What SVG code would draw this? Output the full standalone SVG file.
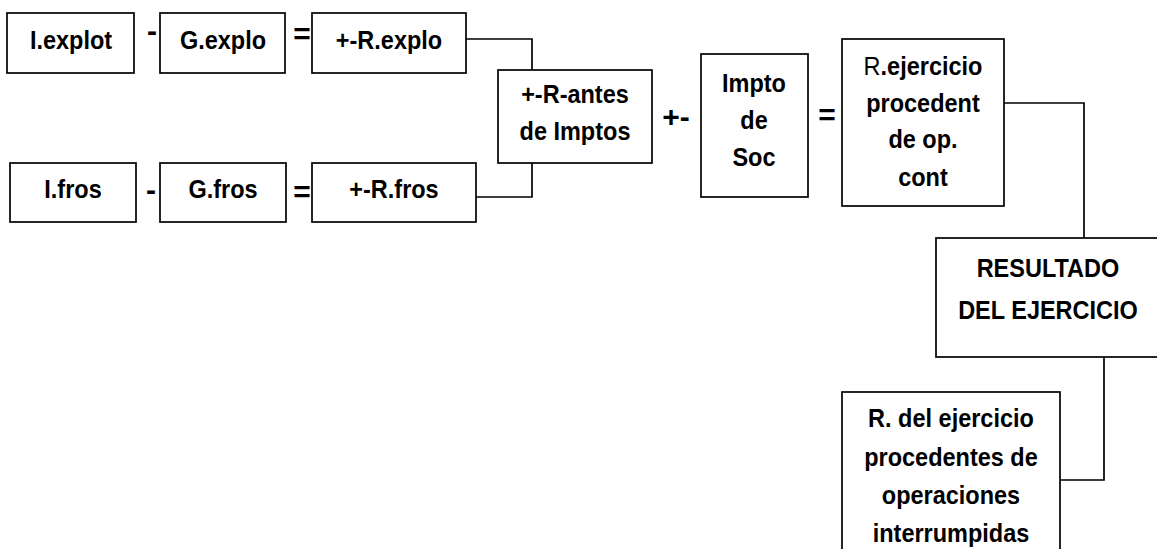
<svg xmlns="http://www.w3.org/2000/svg" width="1157" height="549" viewBox="0 0 1157 549">
  <style>
    .box { fill: #ffffff; stroke: #000000; stroke-width: 1.7; }
    .wire { fill: none; stroke: #000000; stroke-width: 1.7; }
    .lbl { font-family: "Liberation Sans", Arial, sans-serif; font-weight: bold; font-size: 23.5px; fill: #000000; text-anchor: middle; }
    .op { font-family: "Liberation Sans", Arial, sans-serif; font-weight: bold; font-size: 30px; fill: #000000; text-anchor: middle; }
    .thin { font-weight: normal; }
  </style>
  <rect width="1157" height="549" fill="#ffffff"/>

  <!-- connectors -->
  <g id="connectors">
    <polyline class="wire" points="466,39 532,39 532,70"/>
    <polyline class="wire" points="532,163 532,197 476,197"/>
    <polyline class="wire" points="1004,103 1084,103 1084,238"/>
    <polyline class="wire" points="1104,357 1104,480 1060,480"/>
  </g>

  <!-- labels are stretched 10% upwards from their baseline (matrix 1 0 0 1.1 0 -0.1*y) -->

  <!-- operating result row -->
  <g id="ingresos-explotacion">
    <rect class="box" x="7" y="13" width="127" height="60"/>
    <text class="lbl" x="71" y="49" transform="matrix(1 0 0 1.1 0 -4.9)">I.explot</text>
  </g>
  <text class="op" x="152" y="41">-</text>
  <g id="gastos-explotacion">
    <rect class="box" x="160" y="13" width="125" height="60"/>
    <text class="lbl" x="223" y="49" transform="matrix(1 0 0 1.1 0 -4.9)">G.explo</text>
  </g>
  <text class="op" x="302" y="44">=</text>
  <g id="resultado-explotacion">
    <rect class="box" x="312" y="13" width="154" height="60"/>
    <text class="lbl" x="389" y="49" transform="matrix(1 0 0 1.1 0 -4.9)">+-R.explo</text>
  </g>

  <!-- financial result row -->
  <g id="ingresos-financieros">
    <rect class="box" x="10" y="163" width="126" height="59"/>
    <text class="lbl" x="73" y="198" transform="matrix(1 0 0 1.1 0 -19.8)">I.fros</text>
  </g>
  <text class="op" x="151" y="200">-</text>
  <g id="gastos-financieros">
    <rect class="box" x="160" y="163" width="126" height="59"/>
    <text class="lbl" x="223" y="198" transform="matrix(1 0 0 1.1 0 -19.8)">G.fros</text>
  </g>
  <text class="op" x="302" y="202">=</text>
  <g id="resultado-financiero">
    <rect class="box" x="312" y="163" width="164" height="59"/>
    <text class="lbl" x="394" y="198" transform="matrix(1 0 0 1.1 0 -19.8)">+-R.fros</text>
  </g>

  <!-- result before taxes -->
  <g id="resultado-antes-impuestos">
    <rect class="box" x="498" y="70" width="154" height="93"/>
    <text class="lbl" x="575" y="103" transform="matrix(1 0 0 1.1 0 -10.3)">+-R-antes</text>
    <text class="lbl" x="575" y="140" transform="matrix(1 0 0 1.1 0 -14)">de Imptos</text>
  </g>
  <text class="op" x="676" y="127">+-</text>

  <!-- corporate tax -->
  <g id="impuesto-sociedades">
    <rect class="box" x="701" y="54" width="107" height="143"/>
    <text class="lbl" x="754" y="92" transform="matrix(1 0 0 1.1 0 -9.2)">Impto</text>
    <text class="lbl" x="754" y="129" transform="matrix(1 0 0 1.1 0 -12.9)">de</text>
    <text class="lbl" x="754" y="166" transform="matrix(1 0 0 1.1 0 -16.6)">Soc</text>
  </g>
  <text class="op" x="827" y="125">=</text>

  <!-- result from continuing operations -->
  <g id="resultado-operaciones-continuadas">
    <rect class="box" x="842" y="39" width="162" height="167"/>
    <text class="lbl" x="923" y="75" transform="matrix(1 0 0 1.1 0 -7.5)"><tspan class="thin">R</tspan>.ejercicio</text>
    <text class="lbl" x="923" y="112" transform="matrix(1 0 0 1.1 0 -11.2)">procedent</text>
    <text class="lbl" x="923" y="148" transform="matrix(1 0 0 1.1 0 -14.8)">de op.</text>
    <text class="lbl" x="923" y="186" transform="matrix(1 0 0 1.1 0 -18.6)">cont</text>
  </g>

  <!-- result of the year -->
  <g id="resultado-ejercicio">
    <rect class="box" x="936" y="238" width="230" height="119"/>
    <text class="lbl" x="1048" y="277" transform="matrix(1 0 0 1.1 0 -27.7)">RESULTADO</text>
    <text class="lbl" x="1048" y="319" transform="matrix(1 0 0 1.1 0 -31.9)">DEL EJERCICIO</text>
  </g>

  <!-- result from discontinued operations -->
  <g id="resultado-operaciones-interrumpidas">
    <rect class="box" x="842" y="392" width="218" height="170"/>
    <text class="lbl" x="951" y="427" transform="matrix(1 0 0 1.1 0 -42.7)">R. del ejercicio</text>
    <text class="lbl" x="951" y="466" transform="matrix(1 0 0 1.1 0 -46.6)">procedentes de</text>
    <text class="lbl" x="951" y="504" transform="matrix(1 0 0 1.1 0 -50.4)">operaciones</text>
    <text class="lbl" x="951" y="542" transform="matrix(1 0 0 1.1 0 -54.2)">interrumpidas</text>
  </g>
</svg>
